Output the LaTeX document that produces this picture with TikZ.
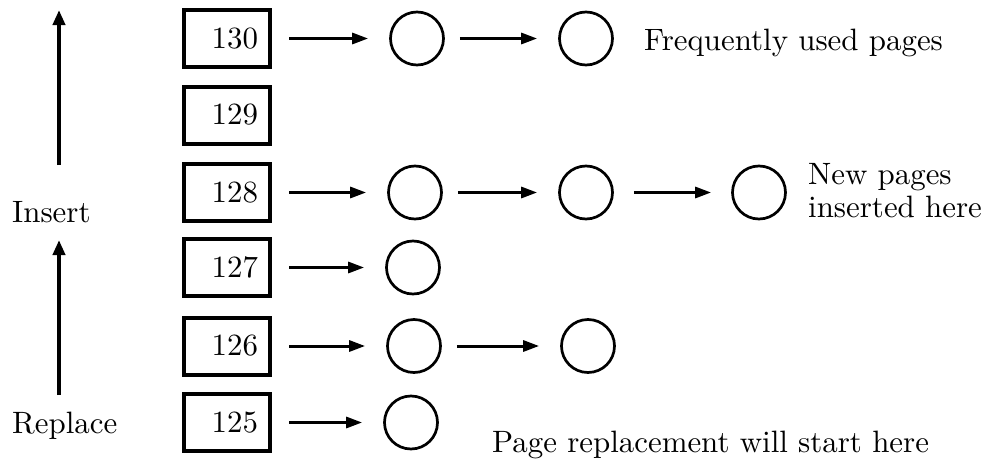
\documentclass[tikz,border=0pt]{standalone}
\usetikzlibrary{arrows.meta}
\newcommand\bigtxt[1]{\scalebox{3.09}{#1}}
\begin{document}
\begin{tikzpicture}[x=1pt,y=-1pt,
  txt/.style={inner sep=0pt},
  pagebox/.style={draw, line width=4pt,
    text width=62pt, align=right, inner xsep=12pt, inner ysep=0pt, minimum height=57pt},
  pg/.style={draw, circle, line width=2.7pt, minimum size=53pt, inner sep=0pt},
  link/.style={line width=3pt, -{Triangle[length=16pt,width=11pt]}, shorten <=17pt, shorten >=21pt},
  dirarrow/.style={line width=4pt, -{Triangle[length=15pt,width=12pt]}}]
\useasboundingbox (0,0) rectangle (989,461);
% boxes
\node[pagebox] (b130) at (227,38.5) {\bigtxt{130}};
\node[pagebox] (b129) at (227,115) {\bigtxt{129}};
\node[pagebox] (b128) at (227,192.5) {\bigtxt{128}};
\node[pagebox] (b127) at (227,267.5) {\bigtxt{127}};
\node[pagebox] (b126) at (227,346) {\bigtxt{126}};
\node[pagebox] (b125) at (227,422.5) {\bigtxt{125}};
% circles
\node[pg] (c130a) at (417,38.5) {};
\node[pg] (c130b) at (586,38.5) {};
\node[pg] (c128a) at (415,192.5) {};
\node[pg] (c128b) at (586,192.5) {};
\node[pg] (c128c) at (759,192.5) {};
\node[pg] (c127a) at (413,267.5) {};
\node[pg] (c126a) at (414,346) {};
\node[pg] (c126b) at (588,346) {};
\node[pg] (c125a) at (411,422.5) {};
% links
\draw[link] (b130) -- (c130a);
\draw[link, shorten <=15pt] (c130a) -- (c130b);
\draw[link] (b128) -- (c128a);
\draw[link, shorten <=15pt] (c128a) -- (c128b);
\draw[link, shorten <=20pt, shorten >=20pt] (c128b) -- (c128c);
\draw[link] (b127) -- (c127a);
\draw[link] (b126) -- (c126a);
\draw[link, shorten <=15pt] (c126a) -- (c126b);
\draw[link] (b125) -- (c125a);
% labels
\node[txt, anchor=base west] (freq) at (644,50) {\bigtxt{Frequently used pages}};
\node[txt, anchor=base west] (new1) at (808,184) {\bigtxt{New pages}};
\node[txt, anchor=base west] (new2) at (808,217) {\bigtxt{inserted here}};
\node[txt, anchor=base west] (repl) at (492,452) {\bigtxt{Page replacement will start here}};
\node[txt, anchor=base west] (ins) at (12,222) {\bigtxt{Insert}};
\node[txt, anchor=base west] (rep) at (12,433) {\bigtxt{Replace}};
% direction arrows
\coordinate (u1s) at (59,165);
\coordinate (u1e) at (59,10);
\coordinate (u2s) at (59,395);
\coordinate (u2e) at (59,240);
\draw[dirarrow] (u1s) -- (u1e);
\draw[dirarrow] (u2s) -- (u2e);
\end{tikzpicture}
\end{document}
